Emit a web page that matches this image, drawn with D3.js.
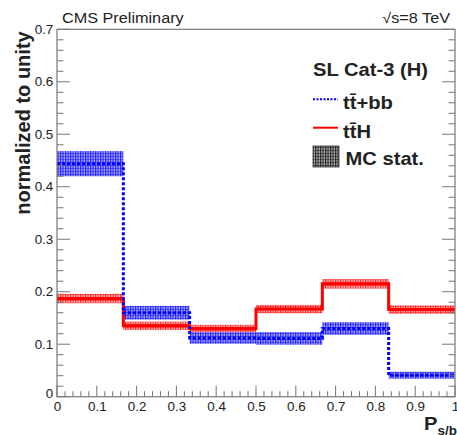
<!DOCTYPE html>
<html>
<head>
<meta charset="utf-8">
<script src="https://cdn.jsdelivr.net/npm/d3@7"></script>
<style>
  body { margin: 0; background: #fff; }
  text { font-family: "Liberation Sans", Arial, sans-serif; fill: #222; }
</style>
</head>
<body>
<script>
// bin edges in P_s/b and the normalized yields per bin
const binEdges = [0, 0.1667, 0.3333, 0.5, 0.6667, 0.8333, 1];
const ttbb = [0.444, 0.160, 0.112, 0.111, 0.130, 0.041];
const ttbbErr = [0.024, 0.013, 0.011, 0.012, 0.012, 0.0065];
const ttH = [0.187, 0.135, 0.130, 0.167, 0.215, 0.166];
const ttHErr = [0.009, 0.008, 0.007, 0.008, 0.009, 0.008];
const xTicks = [0, 0.1, 0.2, 0.3, 0.4, 0.5, 0.6, 0.7, 0.8, 0.9, 1];
const yTicks = [0, 0.1, 0.2, 0.3, 0.4, 0.5, 0.6, 0.7];

var width = 457,
    height = 435,
    padLeft = 57,
    padRight = 455,
    padTop = 29.3,
    padBottom = 396.7,
    SX = 1.12; // text in the original is a bit wider than Liberation Sans

var xScale = d3.scaleLinear().domain([0, 1]).range([padLeft, padRight]);
var yScale = d3.scaleLinear().domain([0, 0.7]).range([padBottom, padTop]);

var svg = d3.select('body').append('svg')
    .attr('width', width)
    .attr('height', height);

// hatch patterns for MC stat bands
var defs = svg.append('defs');
function hatch(id, color, bg) {
    var p = defs.append('pattern')
        .attr('id', id)
        .attr('patternUnits', 'userSpaceOnUse')
        .attr('width', 2.5).attr('height', 3);
    p.append('rect').attr('width', 2.5).attr('height', 3).attr('fill', bg);
    p.append('rect').attr('x', 0).attr('width', 1.2).attr('height', 3).attr('fill', color).attr('opacity', 0.75);
    p.append('rect').attr('y', 0).attr('width', 2.5).attr('height', 0.8).attr('fill', color).attr('opacity', 0.45);
}
hatch('hblue', '#0000ff', 'rgba(80,80,255,0.5)');
hatch('hred', '#ff0000', 'rgba(255,90,90,0.45)');
hatch('hgray', '#000', 'rgba(120,120,120,0.6)');

function bins(vals, errs) {
    return vals.map((v, i) => ({x0: binEdges[i], x1: binEdges[i + 1], v: v, e: errs[i]}));
}
function stepLine(vals) {
    var pts = [];
    vals.forEach((v, i) => { pts.push([binEdges[i], v]); pts.push([binEdges[i + 1], v]); });
    return d3.line().x(d => xScale(d[0])).y(d => yScale(d[1]))(pts);
}
function label(x, y, size, txt, bold, anchor) {
    return svg.append('text')
        .attr('transform', `translate(${x},${y}) scale(${SX},1)`)
        .attr('text-anchor', anchor || 'start')
        .style('font-size', size + 'px')
        .style('font-weight', bold ? 'bold' : 'normal')
        .text(txt);
}

// error bands
[[ttbb, ttbbErr, 'url(#hblue)'], [ttH, ttHErr, 'url(#hred)']].forEach(s => {
    svg.append('g').selectAll('rect')
        .data(bins(s[0], s[1]))
        .enter().append('rect')
        .attr('x', d => xScale(d.x0))
        .attr('width', d => xScale(d.x1) - xScale(d.x0))
        .attr('y', d => yScale(d.v + d.e))
        .attr('height', d => yScale(d.v - d.e) - yScale(d.v + d.e))
        .attr('fill', s[2]);
});

// histogram outlines
svg.append('path').attr('d', stepLine(ttH))
    .attr('fill', 'none').attr('stroke', '#ff0000').attr('stroke-width', 3);
svg.append('path').attr('d', stepLine(ttbb))
    .attr('fill', 'none').attr('stroke', '#0000ff').attr('stroke-width', 3)
    .attr('stroke-dasharray', '3,2');

// axes
var axisColor = '#777';
var xAxis = d3.axisBottom(xScale).tickValues(xTicks).tickSize(0).tickPadding(5.5)
    .tickFormat(d => d === 0 || d === 1 ? d3.format('d')(d) : d3.format('.1f')(d));
var xg = svg.append('g').attr('transform', `translate(0, ${padBottom})`).call(xAxis);
var yAxis = d3.axisLeft(yScale).tickValues(yTicks).tickSize(0).tickPadding(3.3)
    .tickFormat(d => d === 0 ? '0' : d3.format('.1f')(d));
var yg = svg.append('g').attr('transform', `translate(${padLeft}, 0)`).call(yAxis);
[xg, yg].forEach(g => {
    g.select('.domain').remove();
    g.selectAll('text')
        .attr('transform', `scale(${SX},1)`)
        .style('font-size', '12px')
        .style('font-family', '"Liberation Sans", Arial, sans-serif')
        .attr('fill', '#222');
});
// the y "0" sits slightly lower in the original
yg.selectAll('.tick').filter(d => d === 0).select('text').attr('dy', '0.1em');

// tick marks (major + minor), drawn by hand from the scales
var ticksG = svg.append('g').attr('stroke', axisColor).attr('stroke-width', 1);
d3.range(0, 1.0001, 0.02).forEach((t, i) => {
    var len = i % 5 === 0 ? 11 : 5.5;
    ticksG.append('line').attr('x1', xScale(t)).attr('x2', xScale(t))
        .attr('y1', padBottom).attr('y2', padBottom - len);
});
d3.range(0, 0.7001, 0.02).forEach((t, i) => {
    var len = i % 5 === 0 ? 13 : 6.5;
    ticksG.append('line').attr('x1', padLeft).attr('x2', padLeft + len)
        .attr('y1', yScale(t)).attr('y2', yScale(t));
    ticksG.append('line').attr('x1', padRight).attr('x2', padRight - len)
        .attr('y1', yScale(t)).attr('y2', yScale(t));
});

// frame
svg.append('rect')
    .attr('x', padLeft).attr('y', padTop)
    .attr('width', padRight - padLeft).attr('height', padBottom - padTop)
    .attr('fill', 'none').attr('stroke', axisColor).attr('stroke-width', 1.2);

// titles
label(62, 23, 14.5, 'CMS Preliminary');
label(450, 23, 14.5, '\u221As=8 TeV', false, 'end');

svg.append('text')
    .attr('transform', 'translate(30, 123) rotate(-90)')
    .attr('text-anchor', 'middle')
    .style('font-size', '20px').style('font-weight', 'bold')
    .text('normalized to unity');

var xl = label(424, 430, 18, '', true);
xl.append('tspan').text('P');
xl.append('tspan').attr('dy', 5).style('font-size', '12px').text('s/b');

// legend
label(313, 76, 18, 'SL Cat-3 (H)', true);
svg.append('line').attr('x1', 313).attr('x2', 338).attr('y1', 99.3).attr('y2', 99.3)
    .attr('stroke', '#0000ff').attr('stroke-width', 2).attr('stroke-dasharray', '2,1.5');
label(343, 109, 18, 'tt\u0304+bb', true);
svg.append('line').attr('x1', 313).attr('x2', 338).attr('y1', 127.7).attr('y2', 127.7)
    .attr('stroke', '#ff0000').attr('stroke-width', 2);
label(343, 138, 18, 'tt\u0304H', true);
svg.append('rect').attr('x', 313).attr('y', 146).attr('width', 26).attr('height', 21)
    .attr('fill', 'url(#hgray)').attr('stroke', '#333').attr('stroke-width', 0.8);
label(345.5, 165, 18, 'MC stat.', true);
</script>
</body>
</html>
